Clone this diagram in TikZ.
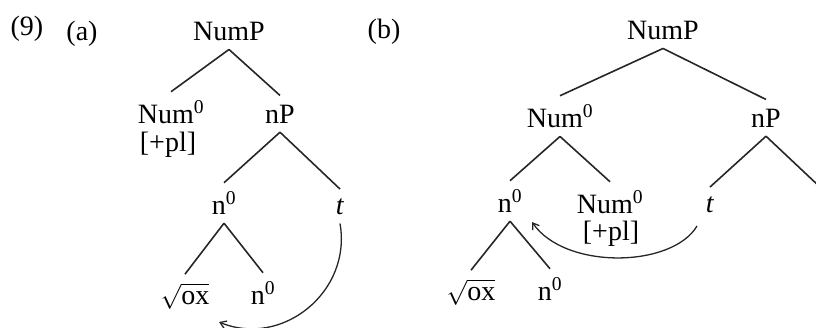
\documentclass[tikz,border=0pt]{standalone}
\usepackage{fontspec}
\setmainfont{Liberation Serif}
\usetikzlibrary{arrows.meta}
\tikzset{
  lab/.style={anchor=base, inner sep=0pt, font=\fontsize{28}{32}\selectfont},
  cat/.style={anchor=base, inner xsep=1pt, inner ysep=9pt, font=\fontsize{28}{32}\selectfont},
  branch/.style={line width=1.6pt, black!85},
  mv/.style={line width=1.3pt, black!85, -{Straight Barb[length=6pt,width=8pt]}},
}
\newcommand{\zsup}{\textsuperscript{0}}
\begin{document}
\begin{tikzpicture}[x=1pt,y=-1pt]
\useasboundingbox (0,0) rectangle (816,327);
\clip (0,0) rectangle (816,327);
% labels
\node[lab] (ex) at (27,35) {(9)};
\node[lab] (la) at (82,40) {(a)};
\node[lab] (lb) at (384,38) {(b)};
% tree (a)
\node[cat] (aNumP) at (229,40) {NumP};
\node[cat] (aNum) at (171,123) {Num\zsup};
\node[lab] (apl) at (168,151) {[+pl]};
\node[cat] (anP) at (280,123) {nP};
\node[cat] (an) at (224,214) {n\zsup};
\node[cat] (at) at (340,214) {\textit{t}};
\node[cat] (aox) at (185,304) {$\sqrt{\hbox{ox}}$};
\node[cat] (an2) at (263,304) {n\zsup};
\draw[branch] (aNumP.south) -- (aNum.north);
\draw[branch] (aNumP.south) -- (anP.north);
\draw[branch] (anP.south) -- (an.north);
\draw[branch] (anP.south) -- (at.north);
\draw[branch] (an.south) -- (aox.north);
\draw[branch] (an.south) -- (an2.north);
\coordinate (aend) at (219,322);
\draw[mv] (at.south) .. controls (352,292) and (282,348) .. (aend);
% tree (b)
\node[cat] (bNumP) at (663,39) {NumP};
\node[cat] (bNum) at (560,127) {Num\zsup};
\node[cat] (bnP) at (766,127) {nP};
\node[cat] (bn) at (510,212) {n\zsup};
\node[cat] (bNum2) at (610,213) {Num\zsup};
\node[lab] (bpl) at (611,240) {[+pl]};
\node[cat] (bt) at (710,212) {\textit{t}};
\node[cat] (bt2) at (820,212) {\textit{t}};
\node[cat] (box) at (471,300) {$\sqrt{\hbox{ox}}$};
\node[cat] (bn2) at (550,300) {n\zsup};
\draw[branch] (bNumP.south) -- (bNum.north);
\draw[branch] (bNumP.south) -- (bnP.north);
\draw[branch] (bNum.south) -- (bn.north);
\draw[branch] (bNum.south) -- (bNum2.north);
\draw[branch] (bnP.south) -- (bt.north);
\draw[branch] (bnP.south) -- (bt2.north);
\draw[branch] (bn.south) -- (box.north);
\draw[branch] (bn.south) -- (bn2.north);
\coordinate (bstart) at (697,226);
\coordinate (bend) at (532,222);
\draw[mv] (bstart) .. controls (672,268) and (565,270) .. (bend);
\end{tikzpicture}
\end{document}
